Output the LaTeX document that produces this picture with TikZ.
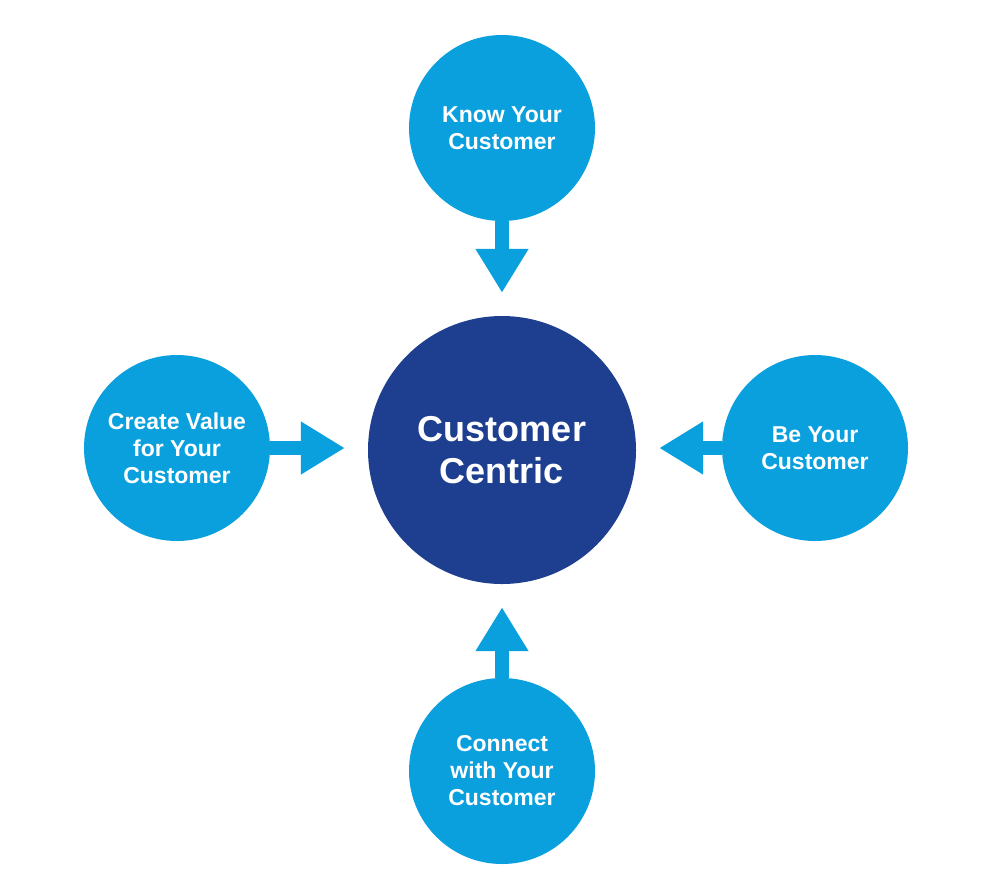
\documentclass[tikz,border=0pt]{standalone}
\usepackage{fontspec}
\setmainfont{Liberation Sans}
\usetikzlibrary{arrows.meta}
\definecolor{lb}{HTML}{0AA0DE}
\definecolor{db}{HTML}{1E3F8F}
\begin{document}
\begin{tikzpicture}[x=1pt,y=-1pt,
 sat/.style={circle,fill=lb,minimum size=186pt,inner sep=0pt,text=white,align=center,font=\bfseries\fontsize{23}{27}\selectfont},
 arr/.style={lb,line width=14pt,-{Triangle[width=50pt,length=44pt]},shorten >=23pt}]
\useasboundingbox (0,0) rectangle (1000,895);
\node[circle,fill=db,minimum size=268pt,inner sep=0pt,text=white,align=center,font=\bfseries\fontsize{36}{42}\selectfont] (c) at (502,450) {Customer\\Centric};
\node[sat] (t) at (502,128) {Know Your\\Customer};
\node[sat] (l) at (177,448) {Create Value\\for Your\\Customer};
\node[sat] (r) at (815,448) {Be Your\\Customer};
\node[sat] (b) at (502,771) {Connect\\with Your\\Customer};
\draw[arr] (t.south) -- (c.north);
\draw[arr] (l.east) -- (l.east -| c.west);
\draw[arr] (r.west) -- (r.west -| c.east);
\draw[arr] (b.north) -- (c.south);
\end{tikzpicture}
\end{document}
